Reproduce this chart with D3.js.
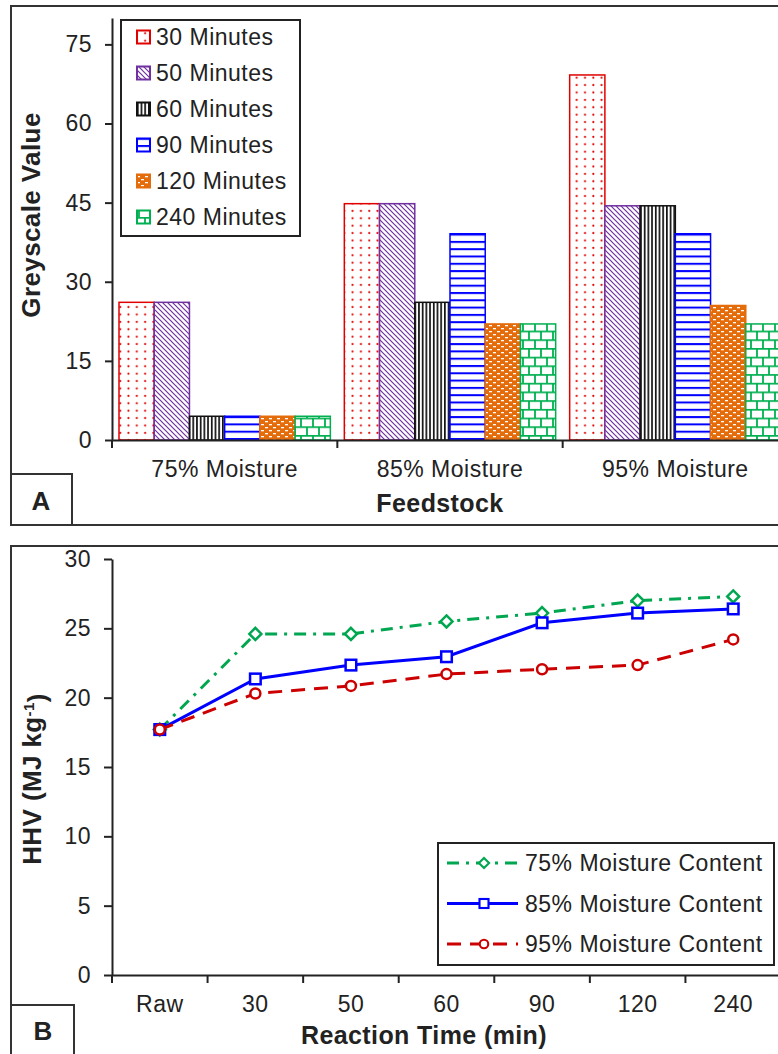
<!DOCTYPE html>
<html>
<head>
<meta charset="utf-8">
<script src="https://cdn.jsdelivr.net/npm/d3@7"></script>
<style>
  body { margin: 0; background: #fff; }
  svg { display: block; font-family: "Liberation Sans", Arial, sans-serif; }
</style>
</head>
<body>
<script>
// ---- panel A data (greyscale value) ----
const feedstocks = ["75% Moisture", "85% Moisture", "95% Moisture"];
const timeNames = ["30 Minutes", "50 Minutes", "60 Minutes", "90 Minutes", "120 Minutes", "240 Minutes"];
const mins30 = [26.1, 44.8, 69.2];
const mins50 = [26.1, 44.8, 44.4];
const mins60 = [4.5, 26.1, 44.4];
const mins90 = [4.5, 39.1, 39.1];
const mins120 = [4.5, 22.0, 25.5];
const mins240 = [4.5, 22.0, 22.0];
const greyTicks = [0, 15, 30, 45, 60, 75];

// ---- panel B data (HHV) ----
const reactionTimes = ["Raw", "30", "50", "60", "90", "120", "240"];
const hhv75 = [17.7, 24.6, 24.6, 25.5, 26.1, 27.0, 27.3];
const hhv85 = [17.7, 21.35, 22.35, 22.95, 25.4, 26.1, 26.4];
const hhv95 = [17.7, 20.3, 20.85, 21.7, 22.05, 22.35, 24.2];
const hhvTicks = [0, 5, 10, 15, 20, 25, 30];

const ink = "#222";
const W = 778, H = 1054;

const svg = d3.select("body").append("svg")
  .attr("width", W)
  .attr("height", H);

const defs = svg.append("defs");

// fill patterns for the bars
function pat(id, w, h, draw) {
  const p = defs.append("pattern")
    .attr("id", id)
    .attr("patternUnits", "userSpaceOnUse")
    .attr("width", w)
    .attr("height", h);
  draw(p);
}
pat("p30", 8.3, 7.4, p => {
  p.append("rect").attr("width", 8.3).attr("height", 7.4).attr("fill", "#fff");
  p.append("circle").attr("cx", 4).attr("cy", 3.7).attr("r", 1.05).attr("fill", "#e00000");
});
pat("p50", 5, 5, p => {
  p.append("rect").attr("width", 5).attr("height", 5).attr("fill", "#fff");
  p.append("path").attr("d", "M0,0L5,5M-1,4L1,6M4,-1L6,1")
    .attr("stroke", "#7030a0").attr("stroke-width", 1.2);
});
pat("p60", 3.7, 4, p => {
  p.append("rect").attr("width", 3.7).attr("height", 4).attr("fill", "#fff");
  p.append("rect").attr("width", 1.7).attr("height", 4).attr("fill", "#111");
});
pat("p90", 6, 7.3, p => {
  p.append("rect").attr("width", 6).attr("height", 7.3).attr("fill", "#fff");
  p.append("rect").attr("y", 0).attr("width", 6).attr("height", 2).attr("fill", "#0000ff");
});
pat("p120", 8, 6, p => {
  p.append("rect").attr("width", 8).attr("height", 6).attr("fill", "#e46c0a");
  p.append("rect").attr("x", 1).attr("y", 1).attr("width", 3).attr("height", 1.3).attr("fill", "#fff");
  p.append("rect").attr("x", 5).attr("y", 4).attr("width", 3).attr("height", 1.3).attr("fill", "#fff");
});
pat("p240", 12, 17.4, p => {
  p.append("rect").attr("width", 12).attr("height", 17.4).attr("fill", "#fff");
  p.append("path").attr("d", "M0,0.9H12M0,9.6H12M1,0V9.6M7,9.6V17.4")
    .attr("stroke", "#00b050").attr("stroke-width", 1.8).attr("fill", "none");
});

const barSeries = [
  { name: timeNames[0], values: mins30, fill: "url(#p30)", stroke: "#e00000" },
  { name: timeNames[1], values: mins50, fill: "url(#p50)", stroke: "#7030a0" },
  { name: timeNames[2], values: mins60, fill: "url(#p60)", stroke: "#111" },
  { name: timeNames[3], values: mins90, fill: "url(#p90)", stroke: "#0000ff" },
  { name: timeNames[4], values: mins120, fill: "url(#p120)", stroke: "#e46c0a" },
  { name: timeNames[5], values: mins240, fill: "url(#p240)", stroke: "#00b050" }
];

/* ================= panel A ================= */
const gA = svg.append("g");
gA.append("rect")
  .attr("x", 11).attr("y", 6).attr("width", 800).attr("height", 519)
  .attr("fill", "#fff").attr("stroke", "#333").attr("stroke-width", 2);

var xA = d3.scaleBand().domain(feedstocks).range([112, 788]);
var xInner = d3.scaleBand().domain(timeNames).range([7, xA.bandwidth() - 7]);
var yA = d3.scaleLinear().domain([0, 80]).range([440, 18]);

// bars
barSeries.forEach(s => {
  gA.append("g").selectAll("rect")
    .data(s.values)
    .enter()
    .append("rect")
    .attr("x", (d, i) => xA(feedstocks[i]) + xInner(s.name))
    .attr("y", d => yA(d))
    .attr("width", xInner.bandwidth())
    .attr("height", d => yA(0) - yA(d))
    .attr("fill", s.fill)
    .attr("stroke", s.stroke)
    .attr("stroke-width", 1.5);
});

// y axis
var yAxisA = gA.append("g")
  .attr("transform", "translate(112,0)")
  .call(d3.axisLeft(yA).tickValues(greyTicks).tickSize(7).tickSizeOuter(0).tickPadding(13));
// x axis
var xAxisA = gA.append("g")
  .attr("transform", "translate(0,440)")
  .call(d3.axisBottom(xA).tickSize(0).tickSizeOuter(0));
xAxisA.selectAll("text").attr("y", 37).attr("dy", null);
// ticks on the category boundaries
xAxisA.selectAll(".bound")
  .data(feedstocks.map(d => xA(d)).concat([xA.range()[1]]))
  .enter().append("line")
  .attr("class", "bound")
  .attr("x1", d => d).attr("x2", d => d)
  .attr("y1", 0).attr("y2", 8)
  .attr("stroke", ink).attr("stroke-width", 2);

[yAxisA, xAxisA].forEach(a => {
  a.selectAll("path, line").attr("stroke", ink).attr("stroke-width", 2);
  a.selectAll("text").attr("fill", ink).style("font-size", "23px").style("letter-spacing", "0.5px");
});

gA.append("text")
  .attr("transform", "translate(40,215) rotate(-90)")
  .attr("text-anchor", "middle")
  .style("font-size", "26px").style("font-weight", "bold").style("letter-spacing", "0.4px")
  .attr("fill", ink)
  .text("Greyscale Value");
gA.append("text")
  .attr("x", 440).attr("y", 512)
  .attr("text-anchor", "middle")
  .style("font-size", "25px").style("font-weight", "bold").style("letter-spacing", "0.4px")
  .attr("fill", ink)
  .text("Feedstock");

// panel tag
gA.append("rect").attr("x", 11).attr("y", 474).attr("width", 61).attr("height", 51)
  .attr("fill", "#fff").attr("stroke", "#333").attr("stroke-width", 2);
gA.append("text").attr("x", 41).attr("y", 510).attr("text-anchor", "middle")
  .style("font-size", "26px").style("font-weight", "bold").attr("fill", ink).text("A");

// legend A
var legA = gA.append("g");
legA.append("rect").attr("x", 121).attr("y", 20).attr("width", 179).attr("height", 216)
  .attr("fill", "#fff").attr("stroke", ink).attr("stroke-width", 2);
var rowA = legA.selectAll(".row").data(barSeries).enter().append("g")
  .attr("transform", (d, i) => "translate(0," + (37 + i * 36) + ")");
rowA.append("rect")
  .attr("x", 137).attr("y", -6.5).attr("width", 13).attr("height", 13)
  .attr("fill", d => d.fill).attr("stroke", d => d.stroke).attr("stroke-width", 2);
rowA.append("text")
  .attr("x", 156).attr("dy", "0.36em")
  .style("font-size", "23px").style("letter-spacing", "0.5px")
  .attr("fill", ink)
  .text(d => d.name);

/* ================= panel B ================= */
const gB = svg.append("g");
gB.append("rect")
  .attr("x", 11).attr("y", 546).attr("width", 800).attr("height", 520)
  .attr("fill", "#fff").attr("stroke", "#333").attr("stroke-width", 2);

var xB = d3.scaleBand().domain(reactionTimes).range([112, 781]);
var yB = d3.scaleLinear().domain([0, 30]).range([975, 559]);
var cx = d => xB(d) + xB.bandwidth() / 2;

var yAxisB = gB.append("g")
  .attr("transform", "translate(112,0)")
  .call(d3.axisLeft(yB).tickValues(hhvTicks).tickSize(8).tickSizeOuter(0).tickPadding(13));
var xAxisB = gB.append("g")
  .attr("transform", "translate(0,975)")
  .call(d3.axisBottom(xB).tickSize(0).tickSizeOuter(0));
xAxisB.selectAll("text").attr("y", 37).attr("dy", null);
xAxisB.selectAll(".bound")
  .data(reactionTimes.map(d => xB(d)).concat([xB.range()[1]]))
  .enter().append("line")
  .attr("class", "bound")
  .attr("x1", d => d).attr("x2", d => d)
  .attr("y1", 0).attr("y2", 8)
  .attr("stroke", ink).attr("stroke-width", 2);

[yAxisB, xAxisB].forEach(a => {
  a.selectAll("path, line").attr("stroke", ink).attr("stroke-width", 2);
  a.selectAll("text").attr("fill", ink).style("font-size", "23px").style("letter-spacing", "0.5px");
});

var hhvTitle = gB.append("text")
  .attr("transform", "translate(41,779) rotate(-90)")
  .attr("text-anchor", "middle")
  .style("font-size", "26px").style("font-weight", "bold").style("letter-spacing", "0.4px")
  .attr("fill", ink);
hhvTitle.append("tspan").text("HHV (MJ kg");
hhvTitle.append("tspan").attr("dy", "-0.45em").style("font-size", "15px").text("-1");
hhvTitle.append("tspan").attr("dy", "0.45em").text(")");

gB.append("text")
  .attr("x", 424).attr("y", 1044)
  .attr("text-anchor", "middle")
  .style("font-size", "25px").style("font-weight", "bold").style("letter-spacing", "0.4px")
  .attr("fill", ink)
  .text("Reaction Time (min)");

gB.append("rect").attr("x", 11).attr("y", 1005).attr("width", 63).attr("height", 60)
  .attr("fill", "#fff").attr("stroke", "#333").attr("stroke-width", 2);
gB.append("text").attr("x", 43).attr("y", 1040).attr("text-anchor", "middle")
  .style("font-size", "26px").style("font-weight", "bold").attr("fill", ink).text("B");

const lineSeries = [
  { name: "75% Moisture Content", values: hhv75, color: "#00a650", dash: "12,7,3,7", marker: "diamond" },
  { name: "85% Moisture Content", values: hhv85, color: "#0000ff", dash: null, marker: "square" },
  { name: "95% Moisture Content", values: hhv95, color: "#cc0000", dash: "14,9", marker: "circle" }
];

function drawMarker(sel, kind, color) {
  if (kind === "circle") {
    sel.append("circle").attr("r", 5).attr("fill", "#fff").attr("stroke", color).attr("stroke-width", 2.5);
  } else if (kind === "square") {
    sel.append("rect").attr("x", -5.3).attr("y", -5.3).attr("width", 10.6).attr("height", 10.6)
      .attr("fill", "#fff").attr("stroke", color).attr("stroke-width", 2.5);
  } else {
    sel.append("path").attr("d", "M0,-6L6,0L0,6L-6,0Z")
      .attr("fill", "#fff").attr("stroke", color).attr("stroke-width", 2.5);
  }
}

var line = d3.line()
  .x((d, i) => cx(reactionTimes[i]))
  .y(d => yB(d));

lineSeries.forEach(s => {
  var g = gB.append("g");
  g.append("path")
    .datum(s.values)
    .attr("d", line)
    .attr("fill", "none")
    .attr("stroke", s.color)
    .attr("stroke-width", 3)
    .attr("stroke-dasharray", s.dash);
  g.selectAll(".m")
    .data(s.values)
    .enter().append("g")
    .attr("transform", (d, i) => "translate(" + cx(reactionTimes[i]) + "," + yB(d) + ")")
    .each(function () { drawMarker(d3.select(this), s.marker, s.color); });
});

// legend B
var legB = gB.append("g");
legB.append("rect").attr("x", 438).attr("y", 843).attr("width", 336).attr("height", 122)
  .attr("fill", "#fff").attr("stroke", ink).attr("stroke-width", 2);
var rowB = legB.selectAll(".row").data(lineSeries).enter().append("g")
  .attr("transform", (d, i) => "translate(0," + (863 + i * 40.5) + ")");
rowB.append("line")
  .attr("x1", 447).attr("x2", 518)
  .attr("stroke", d => d.color).attr("stroke-width", 3)
  .attr("stroke-dasharray", d => d.dash);
rowB.append("g")
  .attr("transform", "translate(484,0) scale(0.85)")
  .each(function (d) { drawMarker(d3.select(this), d.marker, d.color); });
rowB.append("text")
  .attr("x", 525).attr("dy", "0.36em")
  .style("font-size", "23px").style("letter-spacing", "0.5px")
  .attr("fill", ink)
  .text(d => d.name);
</script>
</body>
</html>
